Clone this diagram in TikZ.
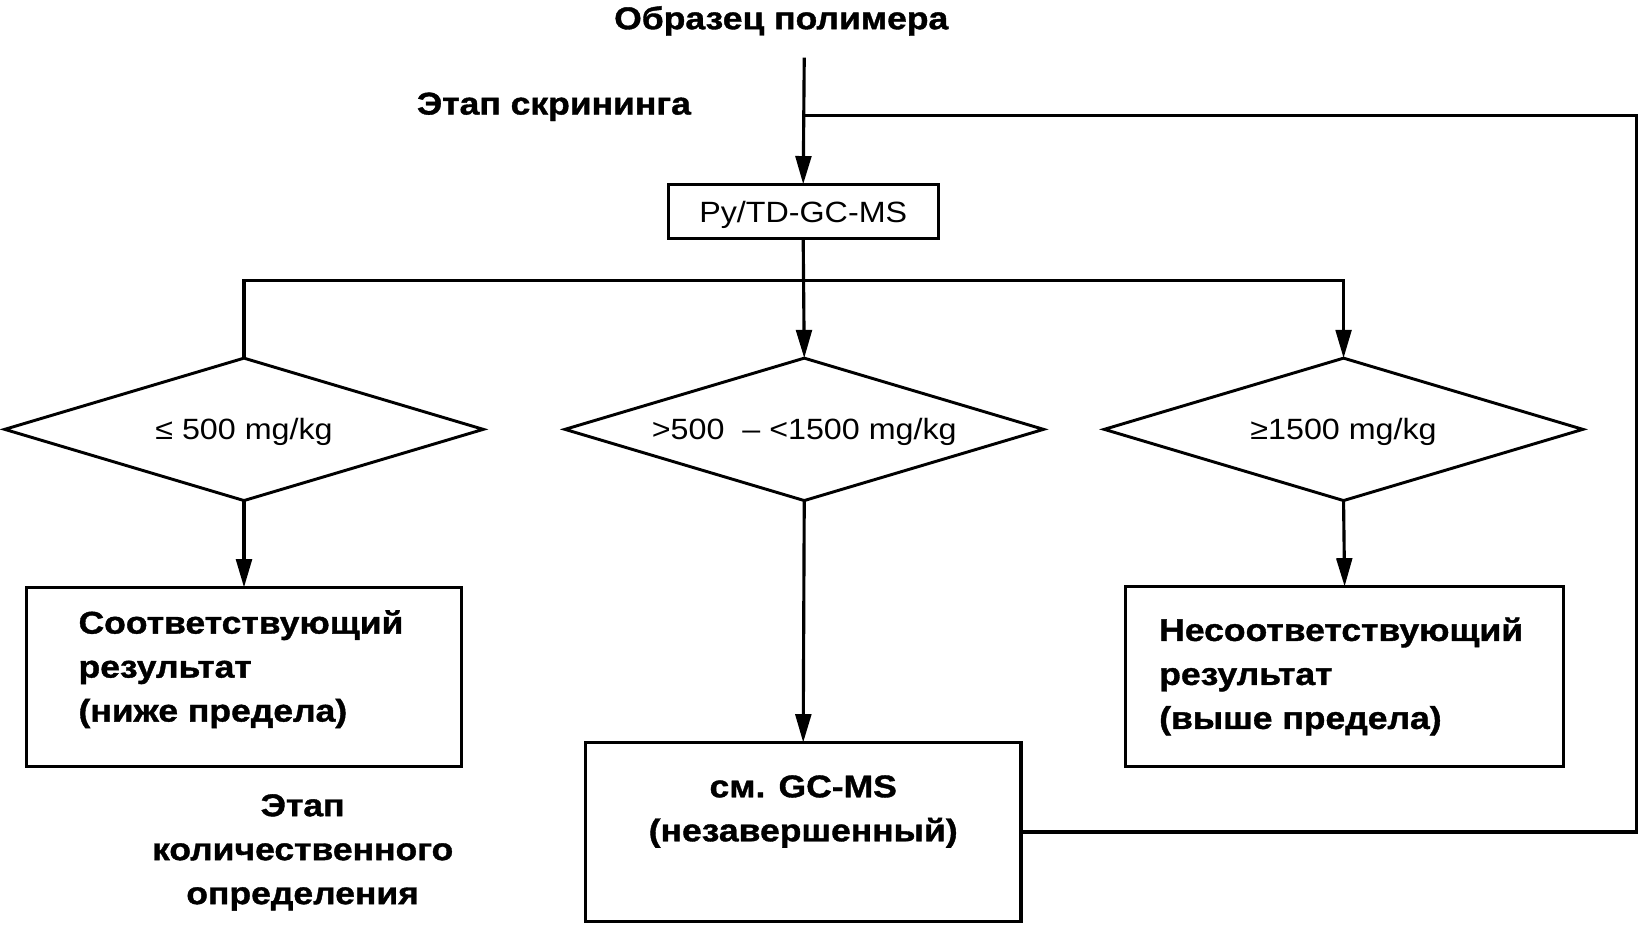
\documentclass[tikz,border=0pt]{standalone}
\usepackage{fontspec}
\setmainfont{Liberation Sans}
\newfontfamily\bigf[FakeStretch=1.13,FakeBold=1.2]{Liberation Sans Bold}
\newfontfamily\regf[FakeStretch=1.1]{Liberation Sans}
\usetikzlibrary{shapes.geometric,arrows.meta}
\begin{document}
\begin{tikzpicture}[x=1pt,y=-1pt,
  every node/.style={inner sep=0pt, outer sep=0pt},
  ln/.style={line width=3pt, draw=black},
  arr/.style={ln, -{Triangle[length=27pt,width=15pt]}},
  boxnode/.style={draw, line width=3pt, rectangle, minimum width=416pt, minimum height=171pt},
  pybox/.style={draw, line width=3pt, rectangle, minimum width=258pt, minimum height=52pt, text depth=0pt, font=\regf\fontsize{28}{30}\selectfont},
  dia/.style={draw, line width=2.8pt, diamond, minimum width=457pt, minimum height=136pt, aspect=3.36, text depth=0pt, font=\regf\fontsize{28}{30}\selectfont},
  bigtxt/.style={font=\bigf\fontsize{30}{42}\selectfont},
]
\useasboundingbox (0,0) rectangle (1568,883);
% texts
\node[bigtxt] (title) at (746,20) {Образец полимера};
\node[bigtxt] (scr) at (529,102) {Этап скрининга};
\node[bigtxt, align=center] (quant) at (289,814) {Этап\\количественного\\определения};
% boxes
\node[pybox] (py) at (767,202) {Py/TD-GC-MS};
\node[dia] (d1) at (233,410) {≤ 500 mg/kg};
\node[dia] (d2) at (768,410) {>500 \ – <1500 mg/kg};
\node[dia] (d3) at (1283,410) {≥1500 mg/kg};
\node[boxnode] (L) at (233,646.5) {};
\node[boxnode] (gc) at (767,794.5) {};
\node[boxnode, minimum width=418pt, minimum height=172pt] (R) at (1284,646) {};
\node[bigtxt, anchor=west, align=left] (Lt) at (75,639) {Соответствующий\\результат\\(ниже предела)};
\node[bigtxt, anchor=west, align=left] (Rt) at (1107,646) {Несоответствующий\\результат\\(выше предела)};
\node[bigtxt, align=center] (gct) at (767,775) {см. GC-MS\\(незавершенный)};
% coordinates
\coordinate (start) at (768,55);
\coordinate (join) at (768,110);
\coordinate (fb) at (1563,110);
\coordinate (bus) at (768,268);
% connectors
\draw[arr] (start) -- (py.north);
\draw[ln] (gc.east) -| (fb) -- (join);
\draw[arr] (py.south) -- (d2.north);
\draw[arr] (d1.north) |- (bus) -| (d3.north);
\draw[arr] (d1.south) -- (L.north);
\draw[arr] (d2.south) -- (gc.north);
\draw[arr] (d3.south) -- (R.north);
\end{tikzpicture}
\end{document}
